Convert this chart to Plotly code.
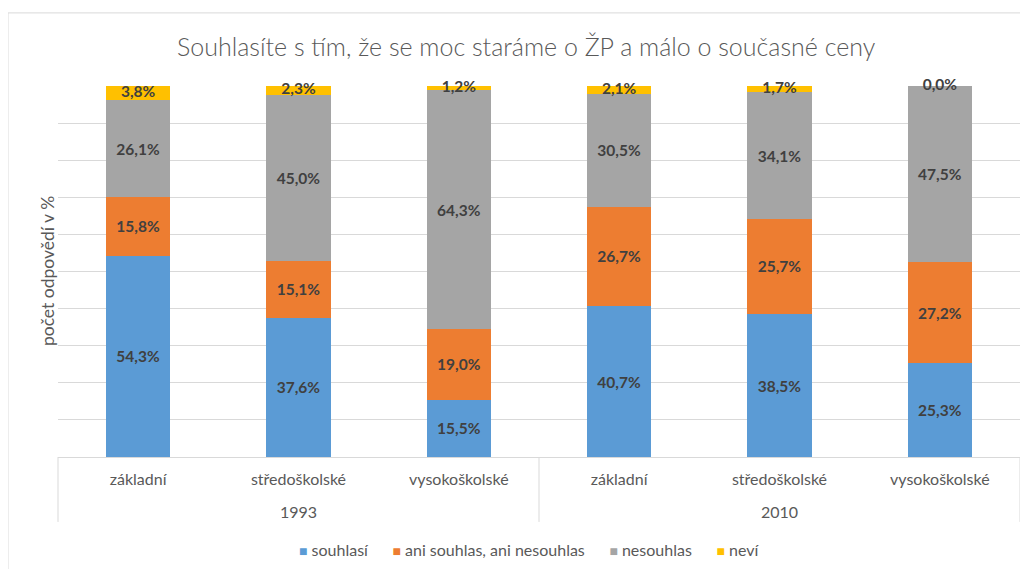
import plotly.graph_objects as go

years = ["1993", "1993", "1993", "2010", "2010", "2010"]
levels = ["základní", "středoškolské", "vysokoškolské", "základní", "středoškolské", "vysokoškolské"]
year_labels = ["1993", "2010"]

series_names = ["souhlasí", "ani souhlas, ani nesouhlas", "nesouhlas", "neví"]
souhlasi = [54.3, 37.6, 15.5, 40.7, 38.5, 25.3]
ani = [15.8, 15.1, 19.0, 26.7, 25.7, 27.2]
nesouhlas = [26.1, 45.0, 64.3, 30.5, 34.1, 47.5]
nevi = [3.8, 2.3, 1.2, 2.1, 1.7, 0.0]
colors = ["#5b9bd5", "#ed7d31", "#a5a5a5", "#ffc000"]

title = "Souhlasíte s tím, že se moc staráme o ŽP a málo o současné ceny"
ytitle = "počet odpovědí v %"

FONT = "Lato"
TXT = "#595959"
cats = [f"{y} {l}" for y, l in zip(years, levels)]

def fmt(v):
    return f"{v:.1f}%".replace(".", ",")

fig = go.Figure()
all_vals = [souhlasi, ani, nesouhlas, nevi]
for i, (name, vals, col) in enumerate(zip(series_names, all_vals, colors)):
    last = i == len(all_vals) - 1
    fig.add_trace(go.Bar(
        name=name,
        x=cats,
        y=vals,
        marker=dict(color=col, line=dict(width=0)),
        text=None if last else [fmt(v) for v in vals],
        textposition="inside",
        insidetextanchor="middle",
        constraintext="none",
        textangle=0,
        insidetextfont=dict(family=FONT, size=15.5, color="#404040", weight="bold"),
        width=0.4,
        showlegend=False,
    ))

# labels of the top segment (neví), placed at the middle of that segment
tops = [a + b + c for a, b, c in zip(souhlasi, ani, nesouhlas)]
fig.add_trace(go.Scatter(
    x=cats,
    y=[t + v / 2 for t, v in zip(tops, nevi)],
    mode="text",
    text=[fmt(v) for v in nevi],
    textposition="middle center",
    textfont=dict(family=FONT, size=15.5, color="#404040", weight="bold"),
    cliponaxis=False,
    showlegend=False,
))

annotations = []
for g, yl in enumerate(year_labels):
    annotations.append(dict(text=yl, xref="x", yref="paper", x=3 * g + 1, y=-0.148,
                            xanchor="center", yanchor="middle", showarrow=False,
                            font=dict(family=FONT, size=16, color=TXT)))
annotations.append(dict(text=ytitle, xref="paper", yref="paper", x=-0.0115, y=0.501,
                        textangle=-90, xanchor="center", yanchor="middle", showarrow=False,
                        font=dict(family=FONT, size=17.5, color=TXT)))
nb = "\u00a0"
parts = []
for name, col in zip(series_names, colors):
    parts.append(f"<span style='color:{col};font-size:14px'>■</span>{nb}{name}")
legend_text = (nb * 6).join(parts)
annotations.append(dict(text=legend_text, xref="paper", yref="paper", x=0.49, y=-0.248,
                        xanchor="center", yanchor="middle", showarrow=False,
                        font=dict(family=FONT, size=16, color=TXT)))

shapes = [
    dict(type="rect", xref="paper", yref="paper", x0=-0.052, x1=1.2, y0=-0.6, y1=1.197,
         line=dict(color="#d9d9d9", width=1), fillcolor="rgba(0,0,0,0)", layer="below"),
    dict(type="line", xref="paper", yref="paper", x0=0, x1=0, y0=0, y1=-0.175,
         line=dict(color="#d9d9d9", width=1)),
    dict(type="line", xref="paper", yref="paper", x0=1, x1=1, y0=0, y1=-0.175,
         line=dict(color="#d9d9d9", width=1)),
    dict(type="line", xref="x", yref="paper", x0=2.5, x1=2.5, y0=0, y1=-0.175,
         line=dict(color="#d9d9d9", width=1)),
]

fig.update_layout(
    barmode="stack",
    width=1020, height=561,
    margin=dict(l=50, r=8, t=78, b=112),
    paper_bgcolor="white", plot_bgcolor="white",
    font=dict(family=FONT, color=TXT, size=14),
    title=dict(text=title, x=0.508, xanchor="center", y=0.9305, yanchor="middle",
               yref="container",
               font=dict(family=FONT, size=25, color=TXT, weight=300)),
    showlegend=False,
    xaxis=dict(type="category", tickmode="array", tickvals=cats, ticktext=levels,
               showline=True, linecolor="#d9d9d9", linewidth=1, ticks="",
               ticklabelstandoff=8, automargin=False, range=[-0.5, 5.5],
               tickfont=dict(family=FONT, size=16, color=TXT)),
    yaxis=dict(range=[0, 100], dtick=10, showticklabels=False, showgrid=True,
               gridcolor="#d9d9d9", gridwidth=1, zeroline=False, automargin=False),
    annotations=annotations,
    shapes=shapes,
)

fig.write_html("out.html")
